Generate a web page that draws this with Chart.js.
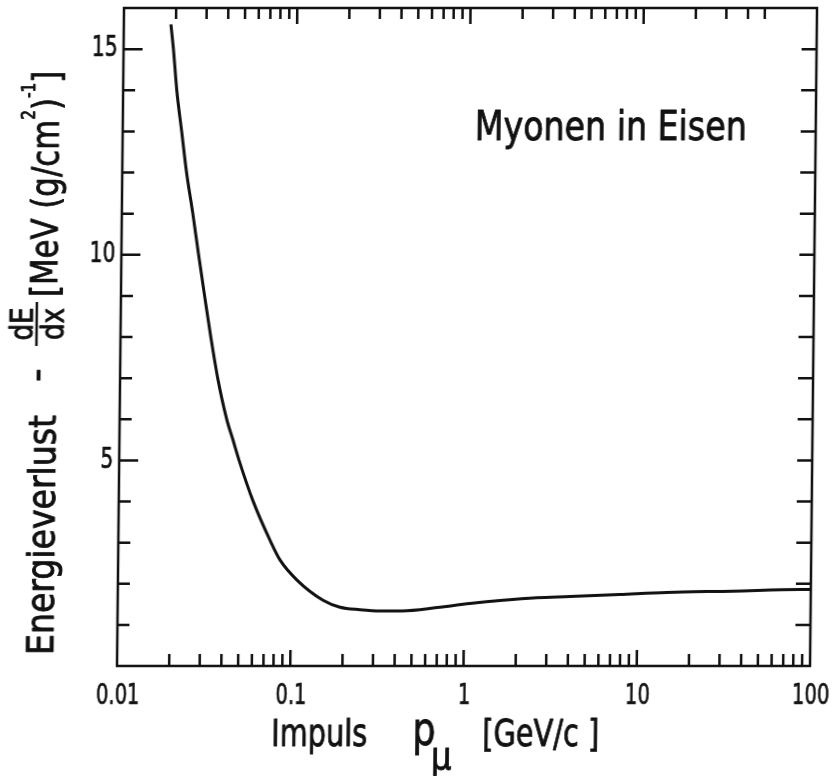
<!DOCTYPE html>
<html>
<head>
<meta charset="utf-8">
<script src="https://cdn.jsdelivr.net/npm/chart.js@4.4.1/dist/chart.umd.min.js"></script>
<style>
  html, body { margin: 0; padding: 0; background: #fff; overflow: hidden; }
  #wrap { width: 838px; height: 776px; }
  #c { display: block; transform: skewX(-0.61deg); transform-origin: 0 667px; }
</style>
</head>
<body>
<div id="wrap"><canvas id="c" width="838" height="776"></canvas></div>
<script>
// ---- data ----
const momentum = [0.0187, 0.0194, 0.0204, 0.0219, 0.0235, 0.0257, 0.0279, 0.0304, 0.0332, 0.0366,
                  0.0415, 0.0452, 0.0492, 0.0592, 0.075, 0.0859, 0.108, 0.153, 0.192, 0.25,
                  0.33, 0.44, 0.7, 1.08, 1.68, 2.63, 4.1, 7.9, 14.8, 35.6, 86.7, 100];
const energyLoss = [15.6, 15.0, 14.0, 13.0, 12.0, 11.0, 10.0, 9.0, 8.0, 7.0,
                    6.0, 5.5, 5.0, 4.04, 3.06, 2.58, 2.09, 1.6, 1.43, 1.37,
                    1.34, 1.34, 1.42, 1.52, 1.6, 1.66, 1.69, 1.74, 1.79, 1.82, 1.86, 1.86];

const xTickValues = [0.01, 0.1, 1, 10, 100];
const xTickLabels = ['0.01', '0.1', '1', '10', '100'];
const xMajorTicks = [0.1, 1, 10];
const xMinorTicks = [0.02,0.03,0.04,0.05,0.06,0.07,0.08,0.09,
                     0.2,0.3,0.4,0.5,0.6,0.7,0.8,0.9,
                     2,3,4,5,6,7,8,9,
                     20,30,40,50,60,70,80,90];
const topMinorTicks = [0.02,0.03,0.04,0.05,0.06,0.07,0.08,0.09,
                       0.2,0.3,0.4,0.5,0.6,0.7,0.8,0.9,
                       2,3,4,5,6,7,8,9,
                       20,30,40,50];
const yTickValues = [5, 10, 15];
const yTickLabels = ['5', '10', '15'];
const yMinorTicks = [1,2,3,4,6,7,8,9,11,12,13,14];
const yRightTicks = [1,2,3,4,5,6,7,8,9,10,11,12,13,14,15];

const annotationText = 'Myonen in Eisen';
const FONT = '"DejaVu Sans", "Liberation Sans", sans-serif';
const INK = '#111';

function txt(ctx, s, x, y, size, sx, align, base, bold) {
  ctx.save();
  ctx.translate(x, y);
  ctx.scale(sx, 1);
  ctx.font = size + 'px ' + FONT;
  ctx.textAlign = align || 'left';
  ctx.textBaseline = base || 'alphabetic';
  ctx.fillStyle = INK;
  ctx.fillText(s, 0, 0);
  if (bold) {
    ctx.strokeStyle = INK;
    ctx.lineWidth = bold;
    ctx.lineJoin = 'round';
    ctx.strokeText(s, 0, 0);
  }
  ctx.restore();
}
function width(ctx, s, size) {
  ctx.save(); ctx.font = size + 'px ' + FONT;
  const m = ctx.measureText(s).width; ctx.restore(); return m;
}
function fit(ctx, s, size, w) { return w / width(ctx, s, size); }

const framePlugin = {
  id: 'frame',
  afterDatasetsDraw(chart) {
    const ctx = chart.ctx;
    const { left, right, top, bottom } = chart.chartArea;
    const xs = chart.scales.x, ys = chart.scales.y;
    ctx.save();
    ctx.strokeStyle = INK;
    ctx.lineWidth = 2.5;
    ctx.lineCap = 'butt';
    ctx.strokeRect(left, top, right - left, bottom - top);

    ctx.beginPath();
    xMinorTicks.forEach(v => { const p = xs.getPixelForValue(v); ctx.moveTo(p, bottom); ctx.lineTo(p, bottom - 12); });
    xMajorTicks.forEach(v => { const p = xs.getPixelForValue(v); ctx.moveTo(p, bottom); ctx.lineTo(p, bottom - 16); });
    topMinorTicks.forEach(v => { const p = xs.getPixelForValue(v); ctx.moveTo(p, top); ctx.lineTo(p, top + 11); });
    xMajorTicks.forEach(v => { const p = xs.getPixelForValue(v); ctx.moveTo(p, top); ctx.lineTo(p, top + 16); });
    yMinorTicks.forEach(v => { const p = ys.getPixelForValue(v); ctx.moveTo(left, p); ctx.lineTo(left + 12, p); });
    yTickValues.forEach(v => { const p = ys.getPixelForValue(v); ctx.moveTo(left, p); ctx.lineTo(left + 19, p); });
    yRightTicks.forEach(v => { const p = ys.getPixelForValue(v); ctx.moveTo(right, p); ctx.lineTo(right - 15, p); });
    ctx.stroke();

    // tick labels
    xTickValues.forEach((v, i) => {
      txt(ctx, xTickLabels[i], xs.getPixelForValue(v) + 1, 697, 28, 0.7, 'center', 'middle', 0.7);
    });
    yTickValues.forEach((v, i) => {
      txt(ctx, yTickLabels[i], 111, ys.getPixelForValue(v), 28, 0.72, 'right', 'middle', 0.7);
    });

    // annotation
    txt(ctx, annotationText, 469, 140, 40, fit(ctx, annotationText, 40, 272), 'left', 'alphabetic', 0.9);

    // x axis title
    txt(ctx, 'Impuls', 272, 746, 38, fit(ctx, 'Impuls', 38, 96), 'left', 'alphabetic', 0.9);
    txt(ctx, 'p', 413, 745, 46, 0.8, 'left', 'alphabetic', 0.9);
    txt(ctx, '\u03bc', 432, 769, 38, 0.85, 'left', 'alphabetic', 0.9);
    txt(ctx, '[GeV/c ]', 483, 746, 38, fit(ctx, '[GeV/c ]', 38, 117), 'left', 'alphabetic', 0.9);

    // y axis title (rotated: local x = -pageY, local y = pageX - 53)
    ctx.save();
    ctx.translate(53, 0);
    ctx.rotate(-Math.PI / 2);
    txt(ctx, 'Energieverlust', -655, 0, 38, fit(ctx, 'Energieverlust', 38, 240), 'left', 'alphabetic', 0.9);
    txt(ctx, '-', -382, -7, 38, 1, 'left', 'alphabetic', 0.9);
    // fraction dE/dx
    txt(ctx, 'dE', -324, -24, 32, 0.82, 'center', 'alphabetic', 0.9);
    txt(ctx, 'dx', -324, 7, 32, 0.82, 'center', 'alphabetic', 0.9);
    ctx.strokeStyle = INK; ctx.lineWidth = 2.5;
    ctx.beginPath(); ctx.moveTo(-346, -20); ctx.lineTo(-302, -20); ctx.stroke();
    const parts = [['[MeV (g/cm', 38, 0], ['2', 19, -24], [')', 38, 0], ['-1', 19, -24], [']', 38, 0]];
    let cx = -297;
    const sx = 0.81;
    parts.forEach(([s, size, dy]) => {
      txt(ctx, s, cx, dy, size, sx, 'left', 'alphabetic', 0.9);
      cx += width(ctx, s, size) * sx;
    });
    ctx.restore();

    ctx.restore();
  }
};

new Chart(document.getElementById('c'), {
  type: 'line',
  data: {
    datasets: [{
      data: momentum.map((p, i) => ({ x: p, y: energyLoss[i] })),
      borderColor: INK,
      borderWidth: 3,
      pointRadius: 0,
      fill: false,
      cubicInterpolationMode: 'monotone'
    }]
  },
  options: {
    responsive: false,
    animation: false,
    devicePixelRatio: 1,
    layout: { padding: { left: 117, right: 28, top: 8, bottom: 110 } },
    plugins: { legend: { display: false }, tooltip: { enabled: false }, title: { display: false } },
    scales: {
      x: { type: 'logarithmic', min: 0.01, max: 100, display: false },
      y: { type: 'linear', min: 0, max: 16, display: false }
    }
  },
  plugins: [framePlugin]
});
</script>
</body>
</html>
